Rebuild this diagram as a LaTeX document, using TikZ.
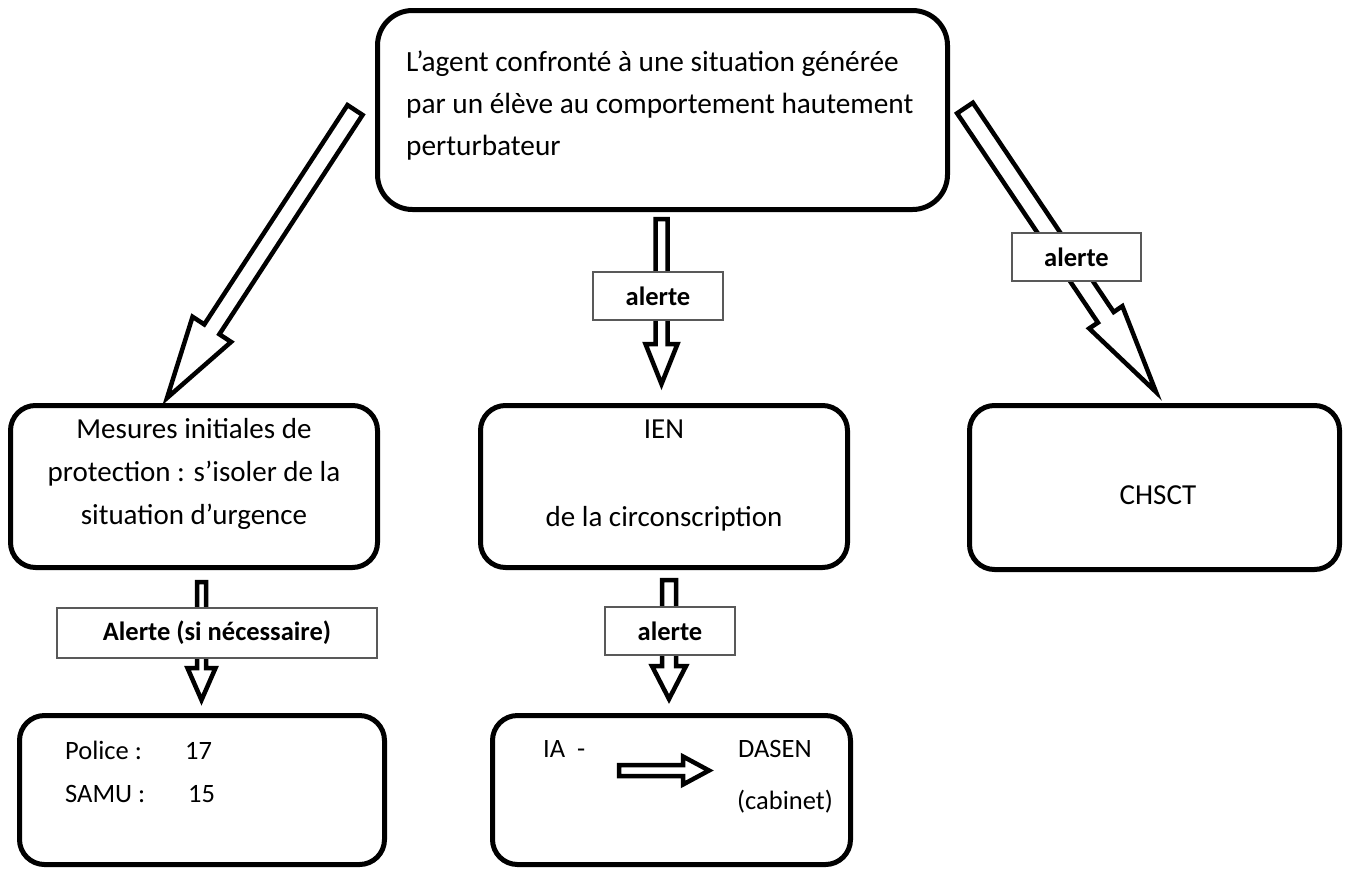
\documentclass[tikz,border=0pt]{standalone}
\usepackage{fontspec}
\setmainfont{Carlito}
\usetikzlibrary{calc}
\tikzset{
  box/.style={draw, line width=5pt, rounded corners=25pt, inner sep=0pt},
  lbl/.style={draw=black!65, line width=1.3pt, fill=white, inner sep=0pt,
    font=\fontsize{26.5}{30}\selectfont\bfseries},
  barrow/.style={draw, line width=4.5pt, fill=white, line join=miter},
  txt/.style={font=\fontsize{29}{42}\selectfont, inner sep=0pt, anchor=mid},
  ltxt/.style={font=\fontsize{29.3}{42}\selectfont, inner sep=0pt, anchor=mid west},
  stxt/.style={font=\fontsize{26.5}{30}\selectfont, inner sep=0pt, anchor=mid west},
}
\newcommand\blockarr[5]{%
  \coordinate (ba-b) at ($(#2)!#5!(#1)$);
  \draw[barrow] ($(#1)!#3!90:(#2)$) -- ($(ba-b)!#3!90:(#2)$) -- ($(ba-b)!#4!90:(#2)$)
    -- (#2) -- ($(ba-b)!#4!-90:(#2)$) -- ($(ba-b)!#3!-90:(#2)$) -- ($(#1)!#3!-90:(#2)$) -- cycle;
}
\begin{document}
\begin{tikzpicture}[x=1pt,y=-1pt]
\useasboundingbox (0,0) rectangle (1351,873);
% boxes
\node[box, rounded corners=35pt, minimum width=570pt, minimum height=199pt] (top) at (662.5,110) {};
\node[box, minimum width=367pt, minimum height=162pt] (mes) at (194,486.5) {};
\node[box, minimum width=367pt, minimum height=162pt] (ien) at (664,486.5) {};
\node[box, minimum width=370pt, minimum height=164pt] (chs) at (1154.5,487.5) {};
\node[box, minimum width=365pt, minimum height=149pt] (pol) at (202,790) {};
\node[box, minimum width=358pt, minimum height=149pt] (ia) at (671.5,790) {};
% texts
\node[ltxt] (t1) at (406,69) {L’agent confronté à une situation générée};
\node[ltxt] (t2) at (406,111) {par un élève au comportement hautement};
\node[ltxt] (t3) at (406,153) {perturbateur};
\node[txt] (m1) at (194,436) {Mesures initiales de};
\node[txt] (m2) at (194,479) {protection : s’isoler de la};
\node[txt] (m3) at (194,522) {situation d’urgence};
\node[txt] (i1) at (664,436) {IEN};
\node[txt] (i2) at (664,524) {de la circonscription};
\node[txt] (c1) at (1158,502) {CHSCT};
\node[stxt] (p1) at (65,757) {Police :};
\node[stxt] (p2) at (185,757) {17};
\node[stxt] (s1) at (65,800) {SAMU :};
\node[stxt] (s2) at (188,800) {15};
\node[stxt] (a1) at (543,755) {IA \ -};
\node[stxt] (a2) at (738,755) {DASEN};
\node[stxt] (a3) at (737,807) {(cabinet)};
% arrow end points
\coordinate (lt) at (355,110);  \coordinate (lh) at (167,398);
\coordinate (mt) at (661.5,219); \coordinate (mh) at (661.5,384);
\coordinate (rt) at (965,108);  \coordinate (rh) at (1156,392);
\coordinate (blt) at (201.5,582); \coordinate (blh) at (201.5,700);
\coordinate (bmt) at (669,580); \coordinate (bmh) at (669,699);
\coordinate (it) at (619,770.5); \coordinate (ih) at (709,770.5);
\blockarr{lt}{lh}{9pt}{23pt}{82pt}
\blockarr{mt}{mh}{6pt}{16pt}{40pt}
\blockarr{rt}{rh}{9.5pt}{20pt}{90pt}
\blockarr{blt}{blh}{4.5pt}{14pt}{32pt}
\blockarr{bmt}{bmh}{7pt}{17pt}{33pt}
\blockarr{it}{ih}{5.5pt}{14pt}{26pt}
% labels
\node[lbl, minimum width=130pt, minimum height=48pt] (l1) at (658,296) {alerte};
\node[lbl, minimum width=129pt, minimum height=48pt] (l2) at (1076.5,257) {alerte};
\node[lbl, minimum width=320pt, minimum height=50pt] (l3) at (217,633) {Alerte (si nécessaire)};
\node[lbl, minimum width=130pt, minimum height=48pt] (l4) at (670,631) {alerte};
\end{tikzpicture}
\end{document}
